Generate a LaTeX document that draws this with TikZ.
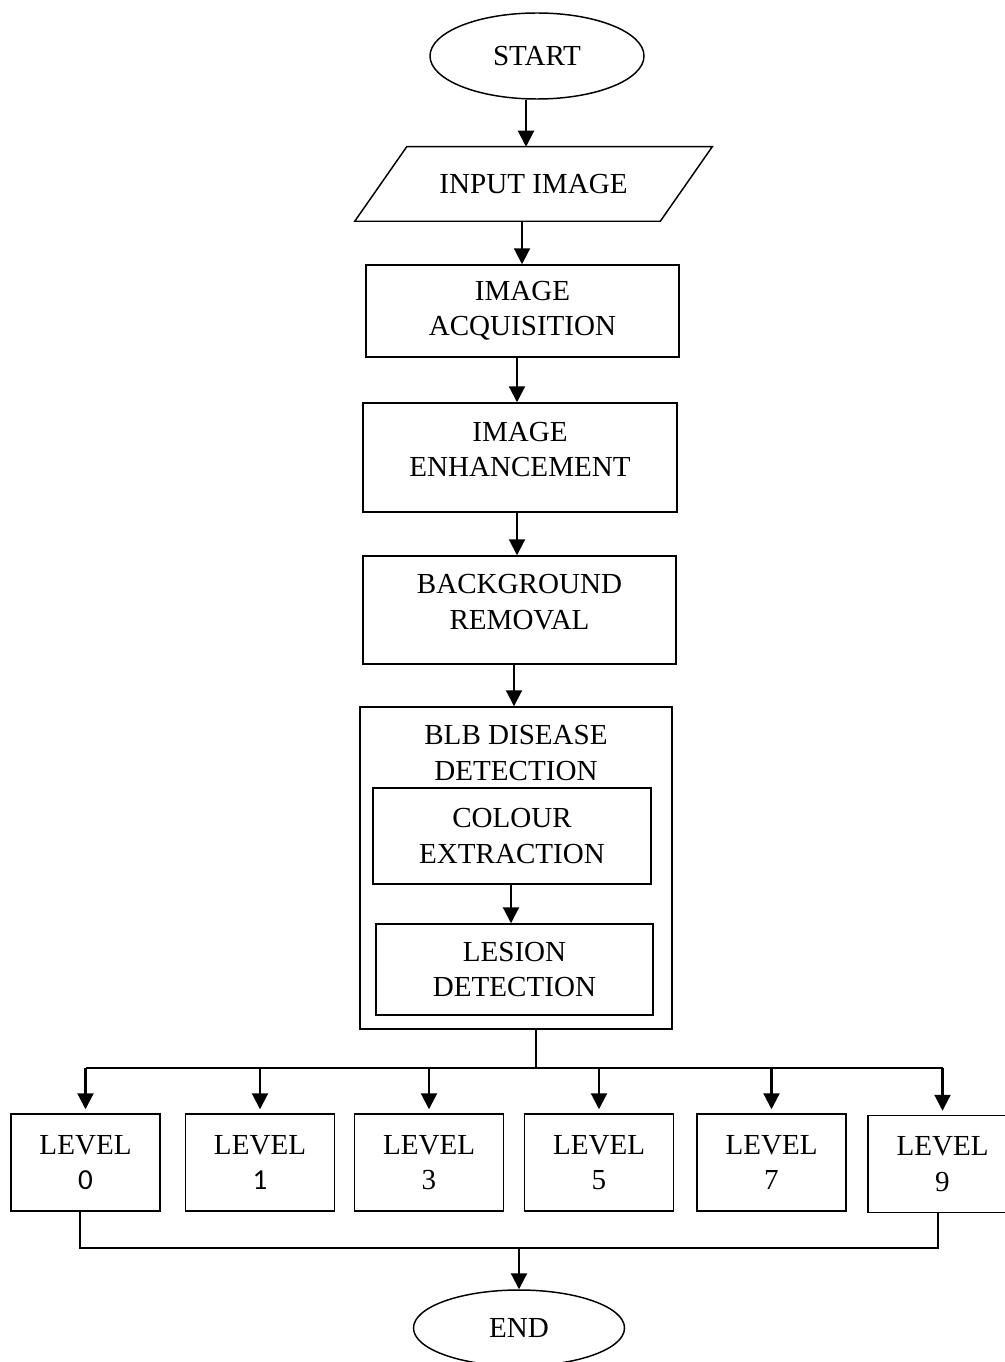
\documentclass[tikz,border=0pt]{standalone}
\usepackage{fontspec}
\setmainfont{Liberation Serif}
\newfontfamily\digitfont{Carlito}
\usetikzlibrary{shapes.geometric,arrows.meta}
\begin{document}
\begin{tikzpicture}[x=0.75pt,y=-0.75pt,
  every node/.style={font=\fontsize{21.8}{26.5}\selectfont, align=center, inner sep=0pt},
  box/.style={draw, line width=1.1pt, rectangle},
  oval/.style={draw, line width=1.1pt, ellipse},
  lvl/.style={box, minimum width=111.75pt, minimum height=72.75pt},
  arr/.style={line width=1.6pt, -{Triangle[length=12pt,width=12pt]}},
  ln/.style={line width=1.3pt}]
\useasboundingbox (0,0) rectangle (1004,1362);

% main chain
\node[oval, minimum width=160.5pt, minimum height=64.5pt] (start) at (537,56) {START};
\node[minimum width=228.75pt, minimum height=55.5pt] (input) at (533.5,184) {INPUT IMAGE};
\draw[line width=1.1pt] ([xshift=19.5pt]input.north west) -- ([xshift=19.5pt]input.north east)
  -- ([xshift=-19.5pt]input.south east) -- ([xshift=-19.5pt]input.south west) -- cycle;
\node[box, minimum width=234.75pt, minimum height=69pt] (acq) at (522.5,311) {IMAGE\\ACQUISITION};
\node[box, minimum width=235.5pt, minimum height=81.75pt, text depth=12pt] (enh) at (520,457.5) {IMAGE\\ENHANCEMENT};
\node[box, minimum width=234.75pt, minimum height=81pt, text depth=12pt] (bg) at (519.5,610) {BACKGROUND\\REMOVAL};
\node[box, minimum width=234pt, minimum height=241.5pt] (blb) at (516,868) {};
\node (blbt) at (516,753) {BLB DISEASE\\DETECTION};
\node[box, minimum width=208.5pt, minimum height=72pt] (col) at (512,836) {COLOUR\\EXTRACTION};
\node[box, minimum width=207.75pt, minimum height=68.25pt] (les) at (514.5,969.5) {LESION\\DETECTION};

% levels
\node[lvl] (l0) at (85.5,1162.5) {LEVEL\\{\digitfont 0}};
\node[lvl] (l1) at (260,1162.5) {LEVEL\\{\digitfont 1}};
\node[lvl] (l3) at (429,1162.5) {LEVEL\\3};
\node[lvl] (l5) at (599,1162.5) {LEVEL\\5};
\node[lvl] (l7) at (771.5,1162.5) {LEVEL\\7};
\node[lvl] (l9) at (942.5,1164) {LEVEL\\9};

\node[oval, minimum width=158.25pt, minimum height=57pt] (end) at (519,1328) {END};

% connectors
\draw[arr] (526,0 |- start.south) -- (526,0 |- input.north);
\draw[arr] (522,0 |- input.south) -- (522,0 |- acq.north);
\draw[arr] (517,0 |- acq.south) -- (517,0 |- enh.north);
\draw[arr] (517,0 |- enh.south) -- (517,0 |- bg.north);
\draw[arr] (514,0 |- bg.south) -- (514,0 |- blb.north);
\draw[arr] (511,0 |- col.south) -- (511,0 |- les.north);

\coordinate (br) at (536,1068);
\draw[ln] (536,0 |- blb.south) -- (br);
\draw[ln] (l0.north |- br) -- (l9.north |- br);
\foreach \n in {l0,l1,l3,l5,l7,l9}{
  \draw[arr] (\n.north |- br) -- ([yshift=3pt]\n.north);
}

\coordinate (bm) at (519,1248);
\draw[ln] (80,0 |- l0.south) -- (80,0 |- bm) -- (938,0 |- bm) -- (938,0 |- l9.south);
\draw[arr] (bm) -- (end.north);
\end{tikzpicture}
\end{document}
